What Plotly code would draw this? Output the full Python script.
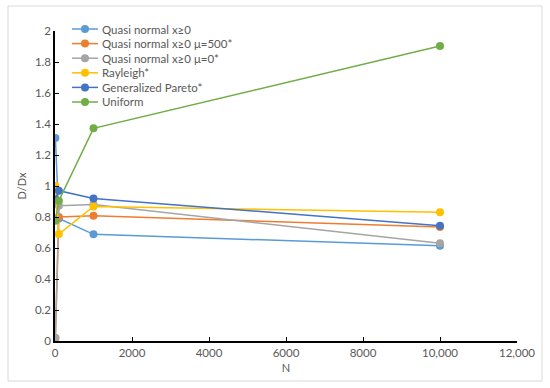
import plotly.graph_objects as go

N = [10, 100, 1000, 10000]
series_names = ["Quasi normal x≥0", "Quasi normal x≥0 μ=500*", "Quasi normal x≥0 μ=0*",
                "Rayleigh*", "Generalized Pareto*", "Uniform"]
quasi_normal = [1.31, 0.79, 0.688, 0.615]
quasi_mu500 = [0.02, 0.80, 0.808, 0.735]
quasi_mu0 = [0.02, 0.873, 0.88, 0.63]
rayleigh = [1.00, 0.69, 0.868, 0.83]
gen_pareto = [0.914, 0.97, 0.92, 0.744]
uniform = [0.776, 0.905, 1.372, 1.903]
series_values = [quasi_normal, quasi_mu500, quasi_mu0, rayleigh, gen_pareto, uniform]
colors = ["#5B9BD5", "#ED7D31", "#A5A5A5", "#FFC000", "#4472C4", "#70AD47"]

x_tickvals = [0, 2000, 4000, 6000, 8000, 10000, 12000]
x_ticktext = ["0", "2000", "4000", "6000", "8000", "10,000", "12,000"]
y_tickvals = [0, 0.2, 0.4, 0.6, 0.8, 1, 1.2, 1.4, 1.6, 1.8, 2]
y_ticktext = ["0", "0.2", "0.4", "0.6", "0.8", "1", "1.2", "1.4", "1.6", "1.8", "2"]

FONT = "Lato"
fig = go.Figure()
for name, vals, c in zip(series_names, series_values, colors):
    fig.add_trace(go.Scatter(x=N, y=vals, mode="lines+markers", name=name,
                             line=dict(color=c, width=1.5),
                             marker=dict(color=c, size=8), showlegend=False))

# plot area in pixels: x 55..517, y 31..341
L, R, T, B = 55, 517, 31, 341
W, H = R - L, B - T
def px(x):
    return (x - L) / W
def py(y):
    return (B - y) / H

shapes = []
annotations = []
# chart border
shapes.append(dict(type="rect", xref="paper", yref="paper",
                   x0=px(8), x1=px(542), y0=py(381), y1=py(6),
                   line=dict(color="#D9D9D9", width=1), layer="below"))
# custom legend
for i, (name, c) in enumerate(zip(series_names, colors)):
    yy = 29 + i * 14.6
    shapes.append(dict(type="line", xref="paper", yref="paper",
                       x0=px(72), x1=px(98), y0=py(yy), y1=py(yy),
                       line=dict(color=c, width=1.5)))
    shapes.append(dict(type="circle", xref="paper", yref="paper",
                       x0=px(81), x1=px(89), y0=py(yy + 4), y1=py(yy - 4),
                       line=dict(color=c, width=0), fillcolor=c))
    annotations.append(dict(text=name, xref="paper", yref="paper",
                            x=px(100), y=py(yy), xanchor="left", yanchor="middle",
                            showarrow=False, font=dict(family=FONT, size=11.5, color="#595959")))

fig.update_layout(
    width=550, height=388,
    margin=dict(l=L, r=550 - R, t=T, b=388 - B, autoexpand=False),
    paper_bgcolor="white", plot_bgcolor="white",
    shapes=shapes, annotations=annotations,
    font=dict(family=FONT, size=11.5, color="#595959"),
    xaxis=dict(range=[0, 12000], tickvals=x_tickvals, ticktext=x_ticktext, automargin=False,
               showgrid=False, zeroline=False, showline=True, linecolor="black", linewidth=1.5,
               ticks="inside", ticklen=4, tickcolor="black",
               title=dict(text="N", font=dict(family=FONT, size=11, color="#595959"), standoff=7)),
    yaxis=dict(range=[0, 2], tickvals=y_tickvals, ticktext=y_ticktext, automargin=False,
               showgrid=False, zeroline=False, showline=True, linecolor="black", linewidth=1.5,
               ticks="inside", ticklen=4, tickcolor="black",
               title=dict(text="D/Dx", font=dict(family=FONT, size=11, color="#595959"), standoff=6)),
)
fig.write_html("out.html", config={"displayModeBar": False},
               post_script="document.body.style.margin='0px';document.body.style.overflow='hidden';")
